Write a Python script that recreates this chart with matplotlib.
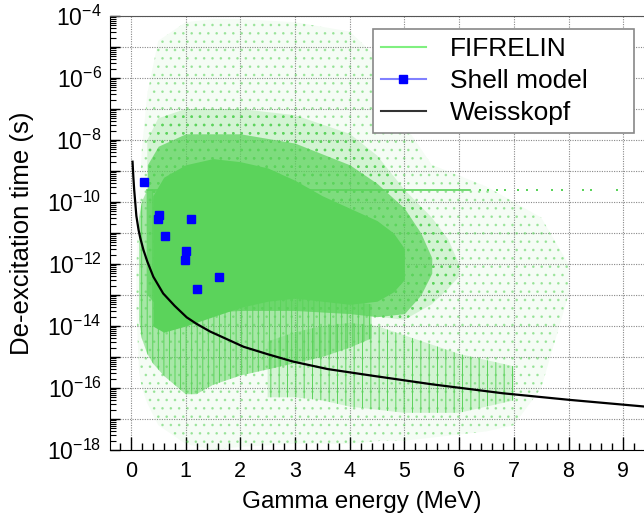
import matplotlib.pyplot as plt
from matplotlib.lines import Line2D
from matplotlib.ticker import LogLocator, NullFormatter, MultipleLocator
import numpy as np

plt.rcParams['font.family'] = ['Liberation Sans', 'DejaVu Sans']
plt.rcParams['mathtext.fontset'] = 'custom'
plt.rcParams['mathtext.rm'] = 'Liberation Sans'
plt.rcParams['mathtext.default'] = 'regular'
plt.rcParams['hatch.linewidth'] = 0.7

# ---- data (energy in MeV, time as log10 of seconds) ----

# Weisskopf estimate
weisskopfE = [0.03, 0.045, 0.06, 0.1, 0.14, 0.17, 0.23, 0.3, 0.41, 0.59, 0.8, 1.02,
              1.2, 1.45, 1.7, 2.06, 2.5, 2.97, 3.6, 4.4, 5.5, 6.8, 8.0, 9.4]
weisskopfLogT = [-8.7, -9.2, -9.6, -10.45, -10.9, -11.15, -11.55, -11.92, -12.41, -12.95,
                 -13.35, -13.72, -13.93, -14.18, -14.38, -14.67, -14.91, -15.15, -15.39,
                 -15.6, -15.88, -16.17, -16.38, -16.6]

# shell model points
shellE = [0.24, 0.52, 0.50, 1.10, 0.62, 1.01, 0.99, 1.61, 1.21]
shellLogT = [-9.35, -10.43, -10.56, -10.54, -11.11, -11.58, -11.86, -12.41, -12.81]

# FIFRELIN cloud, described by density bands (lower / upper edge per energy)
sparseE = [0.1, 0.15, 0.2, 0.3, 0.5, 1.0, 1.5, 2.0, 3.0, 4.0, 4.6, 5.0, 5.5, 6.5, 7.0, 7.5, 8.0]
sparseHi = [-12, -10, -8.3, -6.5, -4.8, -4.2, -4.1, -4.1, -4.2, -4.5, -5.5, -7.5, -8.8, -9.5, -10, -10.5, -12]
sparseLo = [-13.5, -15.5, -16, -16.5, -17.2, -17.8, -18, -17.9, -17.8, -17.8, -17.7, -17.7, -17.6, -17.4, -17.2, -16, -13]

haloE = [0.3, 0.5, 1.0, 2.0, 3.0, 4.0, 4.5, 5.0, 5.5, 5.8, 6.0]
haloHi = [-8.0, -7.3, -7.0, -7.0, -7.2, -7.8, -8.5, -9.6, -10.5, -11.2, -12.0]
haloLo = [-13.0, -13.3, -13.5, -13.5, -13.5, -13.6, -13.7, -13.8, -13.3, -12.8, -12.4]

innerE = [0.3, 0.5, 1.0, 2.0, 3.0, 4.0, 4.5, 5.0, 5.3, 5.5]
innerHi = [-8.8, -8.2, -7.8, -7.8, -8.1, -8.8, -9.4, -10.2, -11.0, -11.8]
innerLo = [-13.0, -13.4, -13.6, -13.5, -13.5, -13.6, -13.7, -13.6, -13.0, -12.3]

coreE = [0.4, 0.6, 1.0, 1.5, 2.0, 2.5, 3.0, 3.5, 4.0, 4.5, 4.8, 5.0]
coreHi = [-9.8, -9.2, -8.8, -8.6, -8.7, -8.9, -9.3, -9.8, -10.2, -10.6, -11.0, -11.5]
coreLo = [-14.0, -14.2, -14.0, -13.7, -13.4, -13.2, -13.1, -13.2, -13.3, -13.2, -12.9, -12.5]

streakE = [0.15, 0.2, 0.3, 0.4, 0.6, 0.8, 1.0, 1.2, 1.5, 2.0, 2.5, 3.0, 3.5, 4.0, 4.4]
streakHi = [-10.5, -10.0, -9.6, -9.6, -13.0, -13.3, -13.5, -13.5, -13.3, -13.2, -13.1, -13.0, -13.1, -13.2, -13.3]
streakLo = [-13.8, -14.4, -14.9, -15.2, -15.6, -15.9, -16.2, -16.2, -15.9, -15.6, -15.4, -15.2, -15.0, -14.7, -14.4]

bandE = [2.5, 3.0, 3.5, 4.0, 4.5, 5.0, 5.5, 6.0, 6.5, 7.0]
bandHi = [-14.5, -14.2, -14.0, -13.9, -14.0, -14.3, -14.6, -14.9, -15.1, -15.3]
bandLo = [-16.3, -16.3, -16.4, -16.6, -16.7, -16.8, -16.8, -16.8, -16.6, -16.4]

# horizontal line of points at fixed lifetime
lineLogT = -9.61
lineE = [0.3, 6.2]
lineDotsE = [6.38, 6.53, 6.69, 6.84, 7.08, 7.24, 7.42, 7.69, 7.88, 8.27, 8.42, 8.88]

green = '#5bd35b'
rgb = (0.357, 0.827, 0.357)

fig = plt.figure(figsize=(6.44, 5.16), dpi=100)
ax = fig.add_axes([110 / 644, 1 - 450 / 516, 1 - 110 / 644, 434 / 516])


def band(E, lo, hi, alpha, hatch=None, hatchAlpha=1.0):
    if hatch is None:
        ax.fill_between(E, 10.0 ** np.array(lo), 10.0 ** np.array(hi),
                        color=green, alpha=alpha, linewidth=0)
    else:
        ax.fill_between(E, 10.0 ** np.array(lo), 10.0 ** np.array(hi),
                        facecolor=rgb + (alpha,), edgecolor=rgb + (hatchAlpha,),
                        hatch=hatch, linewidth=0)


band(sparseE, sparseLo, sparseHi, 0.06, hatch='..', hatchAlpha=0.45)
band(haloE, haloLo, haloHi, 0.22, hatch='..')
band(innerE, innerLo, innerHi, 0.7)
band(bandE, bandLo, bandHi, 0.22, hatch='||')
band(streakE, streakLo, streakHi, 0.5, hatch='|||')
band(coreE, coreLo, coreHi, 1.0)

ax.plot(lineE, [10 ** lineLogT] * 2, color=green, lw=1.2)
ax.plot(lineDotsE, [10 ** lineLogT] * len(lineDotsE), ls='none', marker='s',
        ms=1.6, color=green, mew=0)

ax.plot(weisskopfE, 10.0 ** np.array(weisskopfLogT), color='black', lw=1.6)
ax.plot(shellE, 10.0 ** np.array(shellLogT), ls='none', marker='s', ms=5.5,
        color='blue', mec='blue')

ax.set_yscale('log')
ax.set_xlim(-0.382, 9.38)
ax.set_ylim(1e-18, 1e-4)

# ticks
ax.xaxis.set_major_locator(MultipleLocator(1))
ax.xaxis.set_minor_locator(MultipleLocator(0.2))
majors = [10.0 ** k for k in range(-18, -3)]
ax.set_yticks(majors)
ax.set_yticklabels(['$10^{%d}$' % k if k % 2 == 0 else '' for k in range(-18, -3)])
ax.yaxis.set_minor_locator(LogLocator(base=10, subs=np.arange(2, 10), numticks=100))
ax.yaxis.set_minor_formatter(NullFormatter())

ax.tick_params(axis='x', which='major', direction='in', length=9.5, width=1, labelsize=15.5, pad=8)
ax.tick_params(axis='x', which='minor', direction='in', length=5, width=1)
ax.tick_params(axis='y', which='major', direction='in', length=7.5, width=1, labelsize=16.5, pad=6)
ax.tick_params(axis='y', which='minor', direction='in', length=4.5, width=0.8)

ax.grid(True, which='major', color='#888888', linestyle=(0, (1, 1.2)), linewidth=0.8)
ax.set_axisbelow(True)

ax.spines['right'].set_visible(False)
ax.spines['top'].set_color('#555555')

ax.set_xlabel('Gamma energy (MeV)', fontsize=17.5)
ax.xaxis.set_label_coords(0.472, -0.095)
ax.set_ylabel('De-excitation time (s)', fontsize=18.5)
ax.yaxis.set_label_coords(-0.142, 0.5)

handles = [
    Line2D([], [], color='#80f080', lw=1.5),
    Line2D([], [], color='#8080ff', lw=1.5, marker='s', ms=6, mfc='blue', mec='blue'),
    Line2D([], [], color='#333333', lw=1.5),
]
leg = ax.legend(handles, ['FIFRELIN', 'Shell model', 'Weisskopf'],
                loc='upper left', bbox_to_anchor=(373 / 644, 1 - 136 / 516, 261 / 644, 107 / 516),
                bbox_transform=fig.transFigure, mode='expand', borderaxespad=0,
                fontsize=19, fancybox=False, framealpha=1, edgecolor='#888888',
                handlelength=1.7, handletextpad=0.9, labelspacing=0.3, borderpad=0.3)
leg.get_frame().set_linewidth(1.2)

fig.savefig('out.png', dpi=100)
